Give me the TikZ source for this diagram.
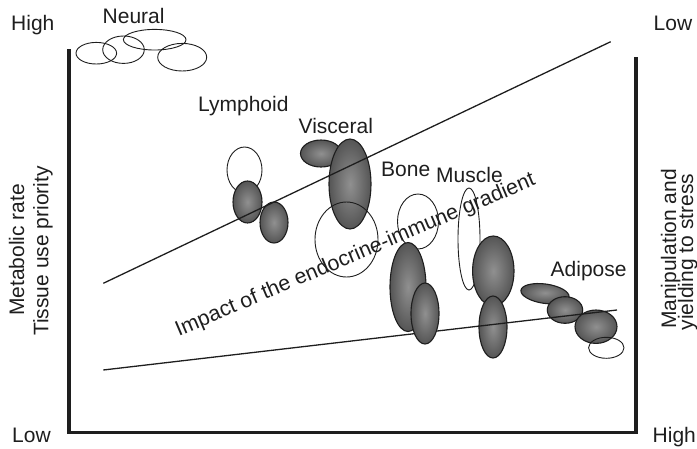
\documentclass[tikz,border=0pt]{standalone}
\usepackage{fontspec}
\setmainfont{Liberation Sans}
\usepackage{tikz}
\usetikzlibrary{shapes.geometric}
\definecolor{TIink}{HTML}{1E1E1E}
\definecolor{TIdark}{HTML}{555555}
\definecolor{TIlite}{HTML}{909090}
\tikzset{
  tidark/.style={
    ellipse, draw=TIink, line width=1.1pt, inner sep=0pt,
    inner color=TIlite, outer color=TIdark},
  tiopen/.style={ellipse, draw=TIink, line width=0.9pt, inner sep=0pt},
  tisize/.style 2 args={minimum width=#1pt, minimum height=#2pt},
  tiaxis/.style={line width=3.3pt, draw=TIink},
  tiline/.style={line width=1.3pt, draw=TIink},
  tilbl/.style={font=\fontsize{21}{25}\selectfont, text=TIink,
    inner sep=0pt, anchor=base west},
  tiside/.style={tilbl, anchor=base, rotate=90},
}

\begin{document}
\begin{tikzpicture}[x=1pt, y=-1pt]
  \useasboundingbox (0,0) rectangle (697,448);
  %% Frame
  \coordinate (axTL) at (69,49);
  \coordinate (axBL) at (69,432.3);
  \coordinate (axBR) at (636,432.3);
  \coordinate (axTR) at (636,56.7);
  \draw[tiaxis] (axTL) -- (axBL) -- (axBR) -- (axTR);
  %% Neural
  \node[tiopen, tisize={40.6}{21.6}] (neuA) at (96.3,53.2) {};
  \node[tiopen, tisize={41.6}{27.4}] (neuB) at (123.5,49.7) {};
  \node[tiopen, tisize={62.6}{20.6}] (neuC) at (154.7,39.7) {};
  \node[tiopen, tisize={49}{27.6}] (neuD) at (182.2,57.2) {};
  %% Lymphoid
  \node[tiopen, tisize={35}{46}] (lymA) at (244.5,170) {};
  \node[tidark, tisize={29}{42}] (lymB) at (247.5,202) {};
  \node[tidark, tisize={28}{41}] (lymC) at (274,222.5) {};
  %% Visceral
  \node[tidark, tisize={41}{27}] (visA) at (321,153.5) {};
  \node[tidark, tisize={42}{90}] (visB) at (350,184) {};
  \node[tiopen, tisize={63}{75}] (visC) at (346.5,239.5) {};
  %% Muscle
  \node[tiopen, tisize={22}{102}] (musA) at (469,239) {};
  \node[tidark, tisize={41.4}{70}] (musB) at (493.3,271) {};
  \node[tidark, tisize={28}{62}] (musC) at (493,327) {};
  %% Adipose
  \node[tidark, tisize={48.6}{19.4}, rotate=-8] (adiA) at (545,293.7) {};
  \node[tidark, tisize={35.4}{26.6}] (adiB) at (565,310) {};
  \node[tidark, tisize={42}{33.4}] (adiC) at (596,326.7) {};
  \node[tiopen, tisize={35.4}{21}] (adiD) at (606.3,347.8) {};
  %% Gradient lines
  \coordinate (hiL) at (103.3,283.3);
  \coordinate (hiR) at (610.7,41.7);
  \coordinate (loL) at (103.3,370);
  \coordinate (loR) at (617,310);
  \draw[tiline] (hiL) -- (hiR);
  \draw[tiline] (loL) -- (loR);
  %% Bone
  \node[tiopen, tisize={41}{55}] (bonA) at (418,221.5) {};
  \node[tidark, tisize={36}{89}] (bonB) at (408,287) {};
  \node[tidark, tisize={28}{61}] (bonC) at (425,313.5) {};
  %% Labels
  \node[tilbl] (hiTop) at (11,30) {High};
  \node[tilbl] (loTop) at (653.5,30) {Low};
  \node[tilbl] (loBot) at (12,442.3) {Low};
  \node[tilbl] (hiBot) at (652.5,442.3) {High};
  \node[tilbl] (lblNeural) at (102.5,23.3) {Neural};
  \node[tilbl] (lblLymph) at (198,111.7) {Lymphoid};
  \node[tilbl] (lblVisc) at (298.5,133.3) {Visceral};
  \node[tilbl] (lblBone) at (381,176.7) {Bone};
  \node[tilbl] (lblMuscle) at (436,182.3) {Muscle};
  \node[tilbl] (lblAdipose) at (550.5,276.7) {Adipose};
  \node[tilbl, font=\fontsize{21.3}{25}\selectfont, anchor=base, rotate=23]
        (lblImpact) at (357.7,260.5) {Impact of the endocrine-immune gradient};
  \node[tiside] (lblMeta) at (24,250) {Metabolic rate};
  \node[tiside] (lblTissue) at (48.5,251) {Tissue use priority};
  \node[tiside] (lblManip) at (676,249) {Manipulation and};
  \node[tiside] (lblYield) at (693,252) {yielding to stress};
\end{tikzpicture}
\end{document}
